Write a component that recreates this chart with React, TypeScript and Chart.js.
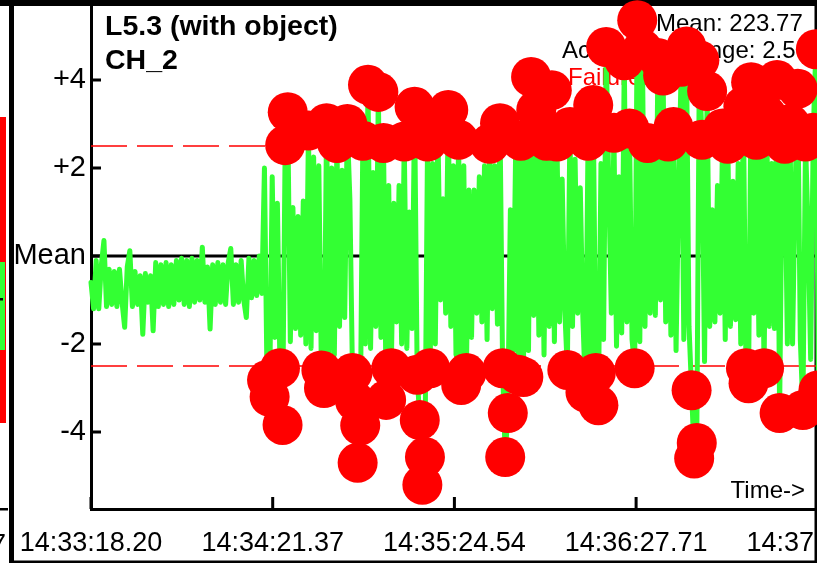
import { useEffect, useRef } from 'react';
import { Chart, registerables } from 'chart.js';

Chart.register(...registerables);

// ---- data -------------------------------------------------------------
const SAMPLE_PERIOD_S = 0.9; // seconds between samples
const X_MAX_S = 316.02; // visible time span of the plot (s)
const X_TICKS_S = [0, 63.17, 126.34, 189.51, 252.68];
const X_TICK_LABELS = ['14:33:18.20', '14:34:21.37', '14:35:24.54', '14:36:27.71', '14:37:30.88'];
const Y_TICKS = [-4, -2, 0, 2, 4];
const Y_TICK_LABELS = ['-4', '-2', 'Mean', '+2', '+4'];
const Y_MIN = -5.75;
const Y_MAX = 5.682;
const LIMIT = 2.5;

// deviation from the mean (in range units), quiet part before the object
const QUIET_VALUES = [
  -0.6, -1.2, -0.1, -1.2, -0.2, 0.35, -1.15, -0.3, -1.1, -0.35,
  -1.15, -0.3, -1.05, -1.62, -0.25, 0.12, -1.15, -0.35, -1.1, -0.45,
  -1.78, -0.4, -1.05, -0.45, -1.7, -0.15, -1.15, -0.2, -1.1, -0.15,
  -1.15, -0.2, -1.1, -0.1, -1.0, -0.05, -1.1, -0.1, -1.15, -0.05,
  -1.05, -0.1, -1.0, 0.2, -1.05, -0.25, -1.66, -0.2, -1.1, -0.15,
  -1.05, -0.2, -1.1, -0.15, 0.17, -1.1, -0.2, -1.05, -0.1, -1.0,
  -1.4, -0.05, -0.95, -0.1, -0.9, 0.0, -0.85,
];

// deviation from the mean, active part (with object)
const ACTIVE_VALUES = [
  2.0, -2.82, -3.2, 1.8, -1.85, 1.2, -2.55, -3.84, 2.52, 3.27,
  -1.95, 1.1, -1.65, 0.9, -1.8, 1.25, -2.0, 2.85, -2.1, 2.25,
  -1.7, 2.05, -2.6, -3.0, 3.02, -2.25, 2.0, -2.25, 2.57, -1.6,
  1.95, -1.4, 3.0, 1.3, -2.66, -3.3, -4.7, -3.85, 2.62, -2.0,
  3.89, -2.1, 1.9, -1.6, 3.73, -1.85, 2.57, -3.27, 1.6, -2.55,
  1.2, -1.5, 1.6, -2.0, 2.6, -2.1, 1.0, -1.65, 3.39, -2.7,
  -3.73, -5.2, -4.57, 2.6, -2.55, 2.1, -2.0, 2.95, -1.0, 1.3,
  -1.3, 3.32, -1.6, 2.05, -2.25, 2.64, -2.93, 2.05, -2.66, 1.5,
  -1.85, 1.5, -1.3, 1.8, -1.5, 2.05, -1.9, 2.55, -1.2, 2.05,
  -1.55, 3.02, -2.55, -4.57, -3.57, 1.05, -2.15, 2.25, -2.7, 2.62,
  -2.75, 2.3, -2.15, 4.07, -1.35, 3.32, -1.8, 2.2, -2.25, 2.62,
  -1.6, 3.77, -1.95, 2.6, -1.5, 1.75, -1.2, -2.59, 2.93, -1.6,
  2.2, -1.3, 1.55, -1.4, -3.1, 2.62, -2.3, 3.43, -2.66, -3.39,
  2.1, -1.9, 4.75, 1.6, -1.3, 2.8, -2.05, 1.8, -1.75, 4.45,
  -1.5, 2.9, -1.9, -2.55, 5.36, -1.95, 4.7, -1.6, 2.57, -1.3,
  2.3, -1.35, 4.5, -1.0, 4.1, -1.5, 2.6, -1.8, 2.93, -2.15,
  1.6, 4.3, -1.9, 4.76, -1.6, -3.05, -4.6, -4.25, 4.45, 2.64,
  -2.4, 3.75, -1.6, 1.05, -1.5, 1.6, -1.3, 2.9, -1.9, 2.55,
  -1.6, 1.7, -1.45, 2.1, -2.0, 3.4, -2.55, -2.89, 3.95, -1.3,
  2.64, -1.8, 2.2, -2.55, 3.2, -1.6, 2.1, -1.65, 4.0, -3.57,
  2.2, 2.55, -2.0, 3.0, -2.0, 1.55, 3.8, -1.9, -3.5, 2.6,
  0.6, -2.35, 2.8, 4.7, -3.05, 1.6, -1.9, 1.2, -1.5, 1.8, -1.2,
];

const TITLE_LINES = ['L5.3 (with object)', 'CH_2'];
const STATS_LINES = ['Mean: 223.77', 'Acceptable range: 2.5', 'Failures: 61'];
const AXIS_NOTE = 'Time->';

// ---- styles -------------------------------------------------------------
const FONT = "'Liberation Sans', Arial, Helvetica, sans-serif";
const GREEN = '#33ff33';
const RED = '#ff0000';
const CANVAS_W = 1000;
const CANVAS_H = 563;

export default function App() {
  const ref = useRef<HTMLCanvasElement>(null);

  useEffect(() => {
    const canvas = ref.current;
    if (!canvas) return;
    const values = [...QUIET_VALUES, ...ACTIVE_VALUES];
    const series = values.map((v, i) => ({ x: i * SAMPLE_PERIOD_S, y: v }));

    const decor = {
      id: 'decor',
      beforeDraw(chart: any) {
        const ctx = chart.ctx;
        ctx.save();
        ctx.fillStyle = '#fff';
        ctx.fillRect(0, 0, chart.width, chart.height);
        // neighbouring panel fragment on the far left
        ctx.fillStyle = RED;
        ctx.fillRect(0, 117, 6, 306);
        ctx.fillStyle = GREEN;
        ctx.fillRect(0, 262, 5, 88);
        ctx.fillStyle = '#000';
        ctx.fillRect(0, 298, 3, 2.5);
        ctx.fillRect(0, 508, 8, 2.5);
        ctx.font = `27px ${FONT}`;
        ctx.textAlign = 'right';
        ctx.textBaseline = 'alphabetic';
        ctx.fillText('7', 6, 553);
        // panel frame
        ctx.fillRect(0, 0, 817, 6);
        ctx.fillRect(9, 0, 5, 563);
        ctx.fillRect(814.5, 0, 2.5, 563);
        ctx.fillRect(9, 560.5, 808, 2.5);
        ctx.restore();
      },
      beforeDatasetsDraw(chart: any) {
        const ctx = chart.ctx;
        const ca = chart.chartArea;
        const xs = chart.scales.x;
        const ys = chart.scales.y;
        ctx.save();
        // inward tick marks
        ctx.strokeStyle = '#000';
        ctx.lineWidth = 3;
        ctx.beginPath();
        for (const v of Y_TICKS) {
          const py = ys.getPixelForValue(v);
          ctx.moveTo(ca.left, py);
          ctx.lineTo(ca.left + 10, py);
        }
        for (const v of X_TICKS_S) {
          const px = xs.getPixelForValue(v);
          ctx.moveTo(px, ca.bottom);
          ctx.lineTo(px, ca.bottom - 12);
        }
        ctx.stroke();
        // texts
        ctx.textBaseline = 'alphabetic';
        ctx.textAlign = 'left';
        ctx.fillStyle = '#000';
        ctx.font = `bold 28.5px ${FONT}`;
        ctx.fillText(TITLE_LINES[0], 105, 35);
        ctx.fillText(TITLE_LINES[1], 105, 69);
        ctx.font = `24px ${FONT}`;
        ctx.fillText(STATS_LINES[0], 656, 31);
        ctx.fillText(STATS_LINES[1], 562, 58);
        ctx.fillStyle = RED;
        ctx.fillText(STATS_LINES[2], 568, 85);
        ctx.fillStyle = '#000';
        ctx.textAlign = 'right';
        ctx.fillText(AXIS_NOTE, 805, 498);
        ctx.restore();
      },
    };

    const chart = new Chart(canvas, {
      type: 'line',
      data: {
        datasets: [
          {
            label: 'CH_2',
            data: series,
            borderColor: GREEN,
            borderWidth: 5,
            borderJoinStyle: 'round',
            borderCapStyle: 'round',
            tension: 0,
            pointRadius: (c: any) => (c.raw && Math.abs(c.raw.y) > LIMIT ? 20 : 0),
            pointHoverRadius: (c: any) => (c.raw && Math.abs(c.raw.y) > LIMIT ? 20 : 0),
            pointBackgroundColor: RED,
            pointBorderColor: RED,
            pointBorderWidth: 0,
            clip: false,
            order: 0,
          } as any,
          {
            label: 'Mean',
            data: [{ x: 0, y: 0 }, { x: X_MAX_S, y: 0 }],
            borderColor: '#000',
            borderWidth: 3,
            pointRadius: 0,
            order: 1,
          },
          {
            label: 'Upper limit',
            data: [{ x: 0, y: LIMIT }, { x: X_MAX_S, y: LIMIT }],
            borderColor: RED,
            borderWidth: 1.5,
            borderDash: [36, 10],
            pointRadius: 0,
            order: 2,
          },
          {
            label: 'Lower limit',
            data: [{ x: 0, y: -LIMIT }, { x: X_MAX_S, y: -LIMIT }],
            borderColor: RED,
            borderWidth: 1.5,
            borderDash: [36, 10],
            pointRadius: 0,
            order: 3,
          },
        ],
      },
      options: {
        responsive: false,
        animation: false,
        events: [],
        layout: { padding: { top: 6, left: 0, right: 0, bottom: 0 } },
        plugins: { legend: { display: false }, tooltip: { enabled: false } },
        scales: {
          x: {
            type: 'linear',
            min: 0,
            max: X_MAX_S,
            afterFit: (s: any) => {
              s.height = 54;
              s.paddingLeft = 0;
              s.paddingRight = 0;
            },
            afterBuildTicks: (s: any) => {
              s.ticks = X_TICKS_S.map((v) => ({ value: v }));
            },
            grid: { display: false, drawTicks: false },
            border: { display: true, color: '#000', width: 3 },
            ticks: {
              autoSkip: false,
              maxRotation: 0,
              minRotation: 0,
              padding: 18,
              color: '#000',
              font: { family: FONT, size: 27 },
              callback: (v: any) => {
                const k = X_TICKS_S.indexOf(Number(v));
                return k >= 0 ? X_TICK_LABELS[k] : '';
              },
            },
          },
          y: {
            type: 'linear',
            min: Y_MIN,
            max: Y_MAX,
            afterFit: (s: any) => {
              s.width = 91;
              s.paddingTop = 0;
              s.paddingBottom = 0;
            },
            afterBuildTicks: (s: any) => {
              s.ticks = Y_TICKS.map((v) => ({ value: v }));
            },
            grid: { display: false, drawTicks: false },
            border: { display: true, color: '#000', width: 3 },
            ticks: {
              autoSkip: false,
              padding: 5,
              color: '#000',
              font: { family: FONT, size: 29 },
              callback: (v: any) => {
                const k = Y_TICKS.indexOf(Number(v));
                return k >= 0 ? Y_TICK_LABELS[k] : '';
              },
            },
          },
        },
      } as any,
      plugins: [decor],
    });
    return () => chart.destroy();
  }, []);

  return (
    <div
      style={{
        position: 'fixed',
        left: 0,
        top: 0,
        width: 817,
        height: 563,
        overflow: 'hidden',
        background: '#fff',
      }}
    >
      <canvas
        ref={ref}
        width={CANVAS_W}
        height={CANVAS_H}
        style={{ display: 'block', width: CANVAS_W, height: CANVAS_H }}
      />
    </div>
  );
}
